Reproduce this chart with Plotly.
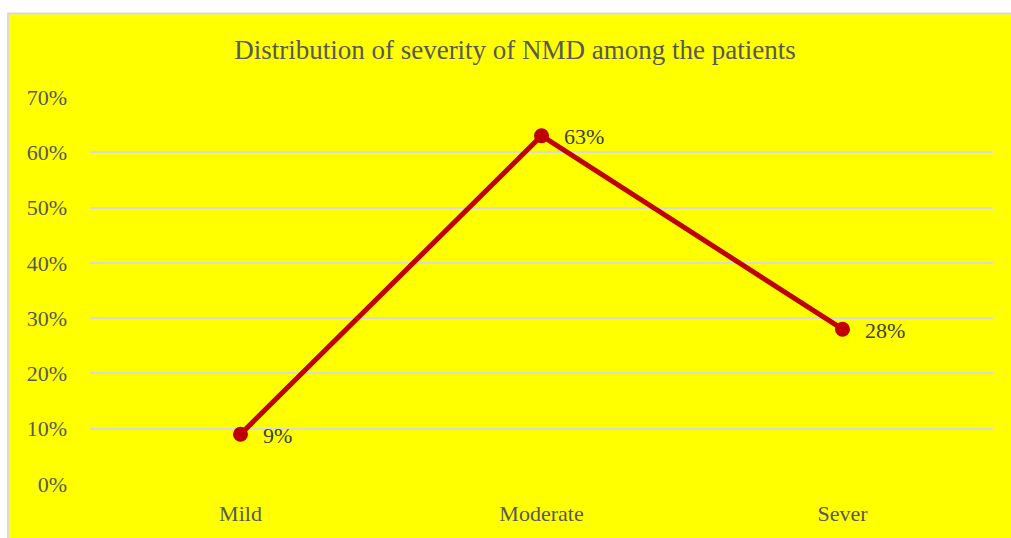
import plotly.graph_objects as go

categories = ["Mild", "Moderate", "Sever"]
values = [0.09, 0.63, 0.28]
labels = ["9%", "63%", "28%"]
title_text = "Distribution of severity of NMD among the patients"

W, H = 1011, 538
ml, mr, mt, mb = 90, 18, 97, 52

fig = go.Figure()
fig.add_trace(go.Scatter(
    x=categories, y=values, mode="lines+markers",
    line=dict(color="#C00000", width=5),
    marker=dict(color="#C00000", size=15),
    cliponaxis=False, showlegend=False, hoverinfo="skip",
))
for c, v, t in zip(categories, values, labels):
    fig.add_annotation(x=c, y=v, text=t, showarrow=False, xanchor="left",
                       xshift=20, yshift=-1,
                       font=dict(family="Liberation Serif", size=22, color="#404040"))

pw = W - ml - mr
ph = H - mt - mb
x0 = (8 - ml) / pw
x1 = (W + 5 - ml) / pw
y1 = (H - mb - 13) / ph
y0 = -(mb + 5) / ph
fig.add_shape(type="rect", xref="paper", yref="paper", x0=x0, x1=x1, y0=y0, y1=y1,
              fillcolor="#FFFF00", line=dict(color="#D9D9D9", width=2), layer="below")

fig.update_layout(
    width=W, height=H,
    margin=dict(l=ml, r=mr, t=mt, b=mb),
    paper_bgcolor="white", plot_bgcolor="rgba(0,0,0,0)",
    title=dict(text=title_text, x=515 / W, xref="container", xanchor="center",
               y=1 - 50 / H, yanchor="middle",
               font=dict(family="Liberation Serif", size=27, color="#595959")),
    xaxis=dict(type="category", range=[-0.5, 2.5], showgrid=False, showline=False,
               zeroline=False, ticks="", ticklabelstandoff=14,
               tickfont=dict(family="Liberation Serif", size=22, color="#595959")),
    yaxis=dict(range=[0, 0.7], dtick=0.1, tickformat=".0%", showgrid=True,
               gridcolor="#D9D9D9", gridwidth=1.5, zeroline=False, showline=False,
               ticks="", ticklabelstandoff=22,
               tickfont=dict(family="Liberation Serif", size=22, color="#595959")),
)
fig.write_html("out.html", config={"displayModeBar": False},
               post_script="document.body.style.margin='0';document.body.style.overflow='hidden';")
